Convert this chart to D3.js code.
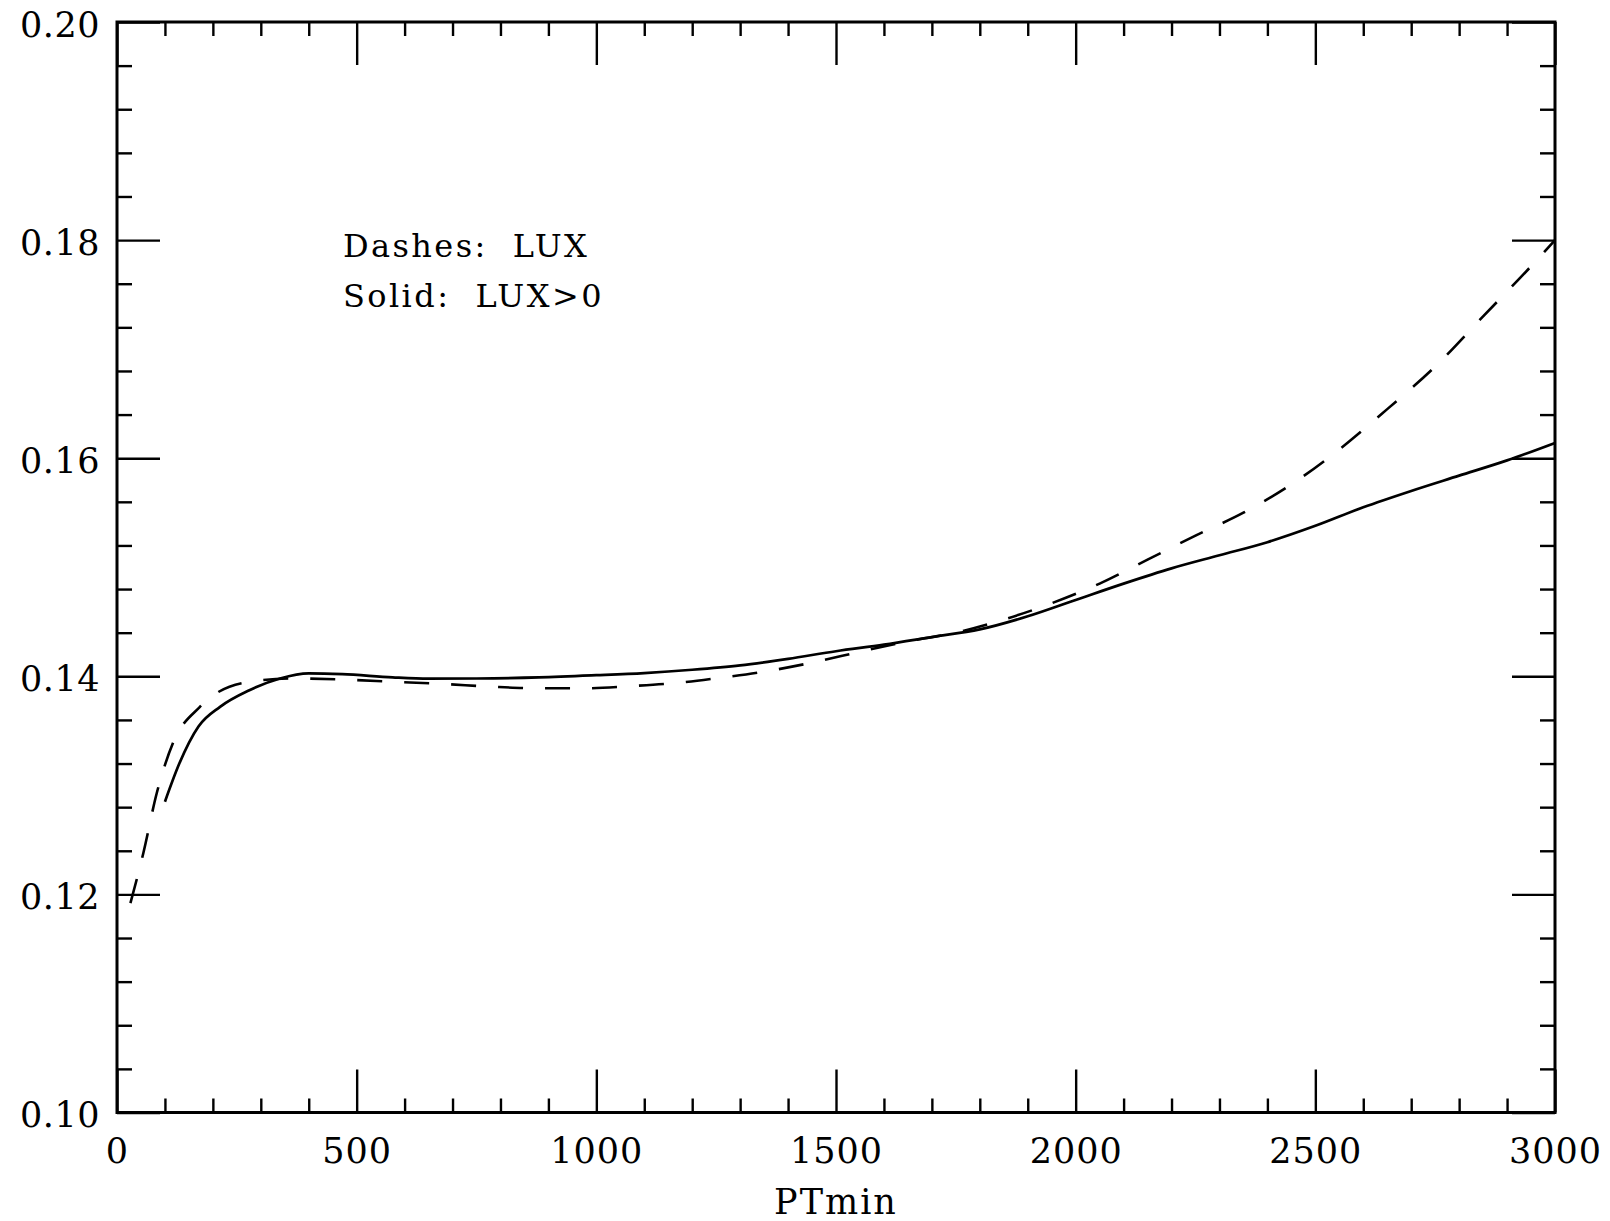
<!doctype html>
<html>
  <head>
    <meta charset="utf-8"/>
    <style>
      body { margin: 0; background: #fff; }
      text { font-family: 'DejaVu Serif', serif; fill: #000; }
    </style>
  </head>
  <body>
    <script src="https://cdn.jsdelivr.net/npm/d3@7"></script>
    <script>

      // PTmin values and the two ratio curves
      const lux0PT = [100, 130, 170, 215, 275, 340, 400, 470, 575, 650, 750, 880, 1000, 1100, 1200,
                      1300, 1400, 1500, 1600, 1700, 1800, 1900, 2000, 2100, 2200, 2300, 2400, 2500,
                      2600, 2700, 2800, 2900, 3000];
      const lux0Val = [0.1285, 0.1320, 0.1354, 0.1372, 0.1387, 0.1398, 0.14027, 0.1402, 0.1399, 0.13978,
                       0.1398, 0.1399, 0.1401, 0.1403, 0.1406, 0.1410, 0.1416, 0.1423, 0.1429, 0.1436,
                       0.1443, 0.1455, 0.1470, 0.1485, 0.1499, 0.1511, 0.1523, 0.1538, 0.1555, 0.1570,
                       0.1584, 0.1598, 0.1614];

      const luxPT = [28, 55, 83, 117, 173, 264, 368, 472, 576, 680, 780, 880, 975, 1070, 1170, 1265,
                     1360, 1455, 1555, 1650, 1750, 1850, 1950, 2050, 2150, 2250, 2350, 2450, 2550,
                     2650, 2750, 2850, 2950, 3000];
      const luxVal = [0.1192, 0.1238, 0.1293, 0.1339, 0.1372, 0.1394, 0.1398, 0.1397, 0.1395, 0.1393,
                      0.13905, 0.1389, 0.1389, 0.1391, 0.1394, 0.1399, 0.1405, 0.1413, 0.1423, 0.1432,
                      0.1440, 0.1452, 0.1467, 0.1485, 0.1507, 0.1529, 0.1550, 0.1576, 0.1608, 0.1645,
                      0.1684, 0.1730, 0.1776, 0.1800];

      const xMajor = [0, 500, 1000, 1500, 2000, 2500, 3000];
      const yMajor = [0.10, 0.12, 0.14, 0.16, 0.18, 0.20];
      const legendLines = ['Dashes:  LUX', 'Solid:  LUX>0'];
      const xTitle = 'PTmin';

      const W = 1610, H = 1221;
      const x = d3.scaleLinear().domain([0, 3000]).range([117, 1555]);
      const y = d3.scaleLinear().domain([0.10, 0.20]).range([1112.5, 22]);

      const xMinor = d3.range(0, 3001, 100).filter(v => v % 500 !== 0);
      const yMinor = d3.range(0, 26).map(i => +(0.10 + i * 0.004).toFixed(3))
            .filter(v => Math.abs(v / 0.02 - Math.round(v / 0.02)) > 1e-6);

      const svg = d3.select('body').append('svg')
            .attr('width', W)
            .attr('height', H);

      const fontSize = 35;

      // ticks on all four sides, pointing inward
      const axisSet = (gen, tx, ty, vals, size, labels) => {
        const g = svg.append('g')
              .attr('transform', 'translate(' + tx + ',' + ty + ')')
              .call(gen.tickValues(vals).tickSizeInner(size).tickSizeOuter(0));
        g.select('.domain').remove();
        g.selectAll('line').attr('stroke', '#000').attr('stroke-width', 2.4);
        if (!labels) g.selectAll('text').remove();
        return g;
      };

      const bottom = axisSet(d3.axisBottom(x).tickPadding(26).tickFormat(d3.format('d')),
                             0, y(0.10), xMajor, -43, true);
      bottom.selectAll('text')
        .attr('font-size', fontSize)
        .attr('font-family', 'DejaVu Serif')
        .attr('letter-spacing', 1);
      axisSet(d3.axisBottom(x), 0, y(0.10), xMinor, -14, false);
      axisSet(d3.axisTop(x), 0, y(0.20), xMajor, -43, false);
      axisSet(d3.axisTop(x), 0, y(0.20), xMinor, -14, false);

      const left = axisSet(d3.axisLeft(y).tickPadding(17).tickFormat(d3.format('.2f')),
                           x(0), 0, yMajor, -43, true);
      left.selectAll('text')
        .attr('font-size', fontSize)
        .attr('font-family', 'DejaVu Serif')
        .attr('dy', '0.40em')
        .attr('letter-spacing', 0.5);
      axisSet(d3.axisLeft(y), x(0), 0, yMinor, -15, false);
      axisSet(d3.axisRight(y), x(3000), 0, yMajor, -43, false);
      axisSet(d3.axisRight(y), x(3000), 0, yMinor, -15, false);

      // frame
      svg.append('rect')
        .attr('x', x(0))
        .attr('y', y(0.20))
        .attr('width', x(3000) - x(0))
        .attr('height', y(0.10) - y(0.20))
        .attr('fill', 'none')
        .attr('stroke', '#000')
        .attr('stroke-width', 3);

      const line = d3.line()
            .x(d => x(d[0]))
            .y(d => y(d[1]))
            .curve(d3.curveMonotoneX);

      svg.append('path')
        .datum(d3.zip(luxPT, luxVal))
        .attr('d', line)
        .attr('fill', 'none')
        .attr('stroke', '#000')
        .attr('stroke-width', 2.6)
        .attr('stroke-dasharray', '25,22');

      svg.append('path')
        .datum(d3.zip(lux0PT, lux0Val))
        .attr('d', line)
        .attr('fill', 'none')
        .attr('stroke', '#000')
        .attr('stroke-width', 2.7);

      // legend text
      svg.append('g')
        .selectAll('text')
        .data(legendLines)
        .join('text')
        .attr('x', 343)
        .attr('y', (d, i) => 257 + i * 50)
        .attr('font-size', 32)
        .attr('letter-spacing', 2.4)
        .style('white-space', 'pre')
        .text(d => d);

      svg.append('text')
        .attr('x', (x(0) + x(3000)) / 2)
        .attr('y', 1214)
        .attr('text-anchor', 'middle')
        .attr('font-size', fontSize)
        .attr('letter-spacing', 2)
        .text(xTitle);

    </script>
  </body>
</html>
